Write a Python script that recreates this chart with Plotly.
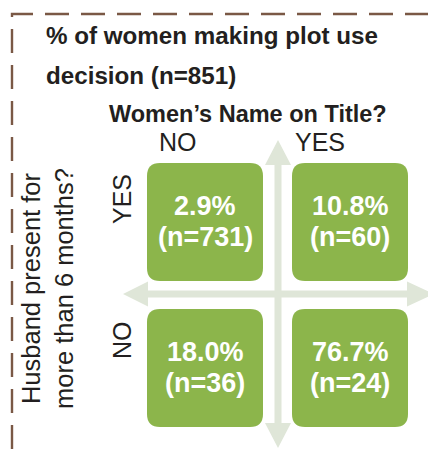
import plotly.graph_objects as go

# ---- data ----
title_answers = ["NO", "YES"]          # Women's name on title? (columns)
husband_answers = ["YES", "NO"]        # Husband present > 6 months? (rows)
pct_values = [[2.9, 10.8], [18.0, 76.7]]
n_values = [[731, 60], [36, 24]]
total_n = 851

W, H = 436, 449
OFF = 8  # page body margin
GREEN = "#8CB54B"
ARROW = "#DFE6D8"
BROWN = "#7A5845"
DARK = "#231F20"
FONT = "Liberation Sans, Arial, sans-serif"

fig = go.Figure()

# layout geometry (page pixel space)
col_x = [205, 350]
row_y = [222, 368]
bw, bh, r = 116, 118, 13
cx, cy = 278, 294


def rrect(x0, y0, x1, y1, r):
    return (f"M {x0+r},{y0} L {x1-r},{y0} Q {x1},{y0} {x1},{y0+r} "
            f"L {x1},{y1-r} Q {x1},{y1} {x1-r},{y1} L {x0+r},{y1} "
            f"Q {x0},{y1} {x0},{y1-r} L {x0},{y0+r} Q {x0},{y0} {x0+r},{y0} Z")


shapes = []
sw = 3.5
shapes.append(dict(type="path", layer="below", line=dict(width=0), fillcolor=ARROW,
                   path=(f"M 123,{cy} L 148,{cy-12.5} L 148,{cy-sw} L 407,{cy-sw} L 407,{cy-12.5} "
                         f"L 434,{cy} L 407,{cy+12.5} L 407,{cy+sw} L 148,{cy+sw} L 148,{cy+12.5} Z")))
shapes.append(dict(type="path", layer="below", line=dict(width=0), fillcolor=ARROW,
                   path=(f"M {cx},140 L {cx+13},165 L {cx+sw},165 L {cx+sw},423 L {cx+13},423 "
                         f"L {cx},448 L {cx-13},423 L {cx-sw},423 L {cx-sw},165 L {cx-13},165 Z")))

annotations = []
for i, ry in enumerate(row_y):
    for j, cxx in enumerate(col_x):
        shapes.append(dict(type="path", line=dict(width=0), fillcolor=GREEN,
                           path=rrect(cxx - bw / 2, ry - bh / 2, cxx + bw / 2, ry + bh / 2, r)))
        annotations.append(dict(x=cxx, y=ry - 16, xref="x", yref="y", showarrow=False,
                                text=f"<b>{pct_values[i][j]:.1f}%</b>",
                                font=dict(family=FONT, size=27, color="white")))
        annotations.append(dict(x=cxx, y=ry + 15, xref="x", yref="y", showarrow=False,
                                text=f"<b>(n={n_values[i][j]})</b>",
                                font=dict(family=FONT, size=27, color="white")))

# dashed frame
shapes.append(dict(type="path", line=dict(color=BROWN, width=2.4, dash="24px,12px"),
                   path=f"M 12,{H} L 12,14 L {W},14"))

# titles
annotations.append(dict(x=44, y=35, xref="x", yref="y", showarrow=False, xanchor="left",
                        text="<b>% of women making plot use</b>",
                        font=dict(family=FONT, size=24.2, color=DARK)))
annotations.append(dict(x=44, y=75, xref="x", yref="y", showarrow=False, xanchor="left",
                        text=f"<b>decision (n={total_n})</b>",
                        font=dict(family=FONT, size=24.2, color=DARK)))
annotations.append(dict(x=248, y=114, xref="x", yref="y", showarrow=False,
                        text="<b>Women’s Name on Title?</b>",
                        font=dict(family=FONT, size=23.5, color=DARK)))
for j in range(len(title_answers)):
    annotations.append(dict(x=[178, 320][j], y=142, xref="x", yref="y", showarrow=False,
                            text=title_answers[j],
                            font=dict(family=FONT, size=25, color=DARK)))
for i in range(len(husband_answers)):
    annotations.append(dict(x=122, y=[199, 340][i], xref="x", yref="y", showarrow=False,
                            text=husband_answers[i], textangle=-90,
                            font=dict(family=FONT, size=25, color=DARK)))
annotations.append(dict(x=47, y=289, xref="x", yref="y", showarrow=False, textangle=-90,
                        text="Husband present for<br>more than 6 months?",
                        font=dict(family=FONT, size=25.5, color=DARK)))

fig.update_layout(
    width=W - OFF, height=H - OFF, margin=dict(l=0, r=0, t=0, b=0),
    paper_bgcolor="white", plot_bgcolor="white",
    xaxis=dict(range=[OFF, W], visible=False, fixedrange=True),
    yaxis=dict(range=[H, OFF], visible=False, fixedrange=True),
    shapes=shapes, annotations=annotations, showlegend=False,
)
fig.write_html("out.html")
